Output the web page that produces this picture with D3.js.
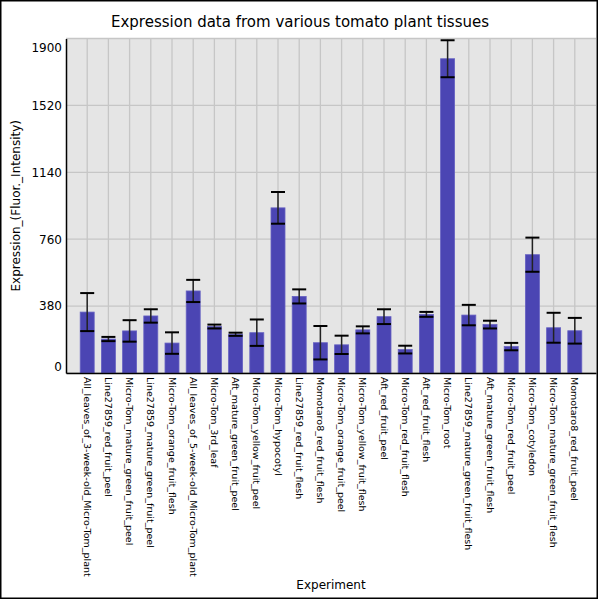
<!DOCTYPE html>
<html>
<head>
<meta charset="utf-8">
<script src="https://cdn.jsdelivr.net/npm/d3@7"></script>
<style>
  body { margin: 0; background: #fff; }
  text { font-family: "DejaVu Sans", sans-serif; fill: #000; }
</style>
</head>
<body>
<div id="chart"></div>
<script>
// tissue names, in the order they appear on the x axis
var tissues = [
  "All_leaves_of_3-week-old_Micro-Tom_plant",
  "Line27859_red_fruit_peel",
  "Micro-Tom_mature_green_fruit_peel",
  "Line27859_mature_green_fruit_peel",
  "Micro-Tom_orange_fruit_flesh",
  "All_leaves_of_5-week-old_Micro-Tom_plant",
  "Micro-Tom_3rd_leaf",
  "Aft_mature_green_fruit_peel",
  "Micro-Tom_yellow_fruit_peel",
  "Micro-Tom_hypocotyl",
  "Line27859_red_fruit_flesh",
  "Momotaro8_red_fruit_flesh",
  "Micro-Tom_orange_fruit_peel",
  "Micro-Tom_yellow_fruit_flesh",
  "Aft_red_fruit_peel",
  "Micro-Tom_red_fruit_flesh",
  "Aft_red_fruit_flesh",
  "Micro-Tom_root",
  "Line27859_mature_green_fruit_flesh",
  "Aft_mature_green_fruit_flesh",
  "Micro-Tom_red_fruit_peel",
  "Micro-Tom_cotyledon",
  "Micro-Tom_mature_green_fruit_flesh",
  "Momotaro8_red_fruit_peel"
];

// mean expression and the error (+/-)
var expression = [346, 193, 239, 324, 170, 466, 264, 220, 229, 938, 435, 172,
                  160, 245, 320, 133, 333, 1785, 329, 275, 150, 672, 257, 240];
var errors = [108, 12, 61, 38, 61, 63, 11, 9, 75, 90, 40, 95,
              52, 20, 42, 22, 14, 105, 58, 22, 21, 97, 85, 73];

var yTicks = [0, 380, 760, 1140, 1520, 1900];

var W = 600, H = 600;
var margin = {top: 38.5, right: 4, bottom: 227, left: 66};
var width = W - margin.left - margin.right,
    height = H - margin.top - margin.bottom;

var svg = d3.select("#chart").append("svg")
    .attr("width", W)
    .attr("height", H);

svg.append("rect")
    .attr("x", 0.75).attr("y", 0.75)
    .attr("width", W - 3.5).attr("height", H - 2.5)
    .attr("fill", "#fff")
    .attr("stroke", "#000")
    .attr("stroke-width", 1.5);

var x = d3.scalePoint()
    .domain(tissues)
    .range([0, width])
    .padding(1);

var y = d3.scaleLinear()
    .domain([0, 1900])
    .range([height, 0]);

var g = svg.append("g")
    .attr("transform", "translate(" + margin.left + "," + margin.top + ")");

// plot background
g.append("rect")
    .attr("width", width)
    .attr("height", height)
    .attr("fill", "#e5e5e5");

// grid lines
g.append("g").selectAll("line")
    .data(tissues)
    .enter().append("line")
    .attr("x1", function(d){ return x(d); })
    .attr("x2", function(d){ return x(d); })
    .attr("y1", 0).attr("y2", height)
    .attr("stroke", "#c6c6c6")
    .attr("stroke-width", 1.3);

g.append("g").selectAll("line")
    .data(yTicks)
    .enter().append("line")
    .attr("x1", 0).attr("x2", width)
    .attr("y1", function(d){ return y(d); })
    .attr("y2", function(d){ return y(d); })
    .attr("stroke", "#c6c6c6")
    .attr("stroke-width", 1.3);

var barW = 14, capW = 14;

// bars
g.append("g").selectAll("rect")
    .data(tissues)
    .enter().append("rect")
    .attr("x", function(d){ return x(d) - barW / 2; })
    .attr("y", function(d, i){ return y(expression[i]); })
    .attr("width", barW)
    .attr("height", function(d, i){ return height - y(expression[i]); })
    .attr("fill", "#4b45b3")
    .attr("stroke", "#6661c2")
    .attr("stroke-width", 0.8);

// error bars
var eb = g.append("g").selectAll("g")
    .data(tissues)
    .enter().append("g");

eb.append("line")
    .attr("x1", function(d){ return x(d); })
    .attr("x2", function(d){ return x(d); })
    .attr("y1", function(d, i){ return y(Math.min(1900, expression[i] + errors[i])); })
    .attr("y2", function(d, i){ return y(expression[i] - errors[i]); })
    .attr("stroke", "#222")
    .attr("stroke-width", 1.5);

eb.append("line")
    .attr("x1", function(d){ return x(d) - capW / 2; })
    .attr("x2", function(d){ return x(d) + capW / 2; })
    .attr("y1", function(d, i){ return y(Math.min(1900, expression[i] + errors[i])); })
    .attr("y2", function(d, i){ return y(Math.min(1900, expression[i] + errors[i])); })
    .attr("stroke", "#000")
    .attr("stroke-width", 2);

eb.append("line")
    .attr("x1", function(d){ return x(d) - capW / 2; })
    .attr("x2", function(d){ return x(d) + capW / 2; })
    .attr("y1", function(d, i){ return y(expression[i] - errors[i]); })
    .attr("y2", function(d, i){ return y(expression[i] - errors[i]); })
    .attr("stroke", "#000")
    .attr("stroke-width", 2);

// axes
var yAxis = g.append("g")
    .call(d3.axisLeft(y).tickValues(yTicks).tickFormat(d3.format("d"))
        .tickSize(0).tickPadding(4));
yAxis.select(".domain").attr("stroke", "#000").attr("stroke-width", 1.5);
yAxis.selectAll("text")
    .style("font-size", "12px")
    .attr("dy", function(d){
        // end labels are pulled inside the plot like in the original
        if (d === 0) return "-0.17em";
        if (d === 1900) return "1.1em";
        return "0.32em";
    });

var xAxis = g.append("g")
    .attr("transform", "translate(0," + height + ")")
    .call(d3.axisBottom(x).tickSize(0).tickPadding(0));
xAxis.select(".domain").attr("stroke", "#000").attr("stroke-width", 1.5);
xAxis.selectAll("text")
    .style("font-size", "9.5px")
    .style("text-anchor", "start")
    .attr("transform", function(d){ return "translate(" + x(d) + ",4) rotate(90)"; })
    .attr("x", 0).attr("y", 0)
    .attr("dy", "0.35em");
xAxis.selectAll(".tick").attr("transform", null);

// titles
svg.append("text")
    .attr("x", 300).attr("y", 26.5)
    .attr("text-anchor", "middle")
    .style("font-size", "15px")
    .text("Expression data from various tomato plant tissues");

svg.append("text")
    .attr("transform", "translate(20," + (margin.top + height / 2) + ") rotate(-90)")
    .attr("text-anchor", "middle")
    .style("font-size", "12px")
    .text("Expression_(Fluor._Intensity)");

svg.append("text")
    .attr("x", margin.left + width / 2).attr("y", 588.5)
    .attr("text-anchor", "middle")
    .style("font-size", "12px")
    .text("Experiment");
</script>
</body>
</html>
